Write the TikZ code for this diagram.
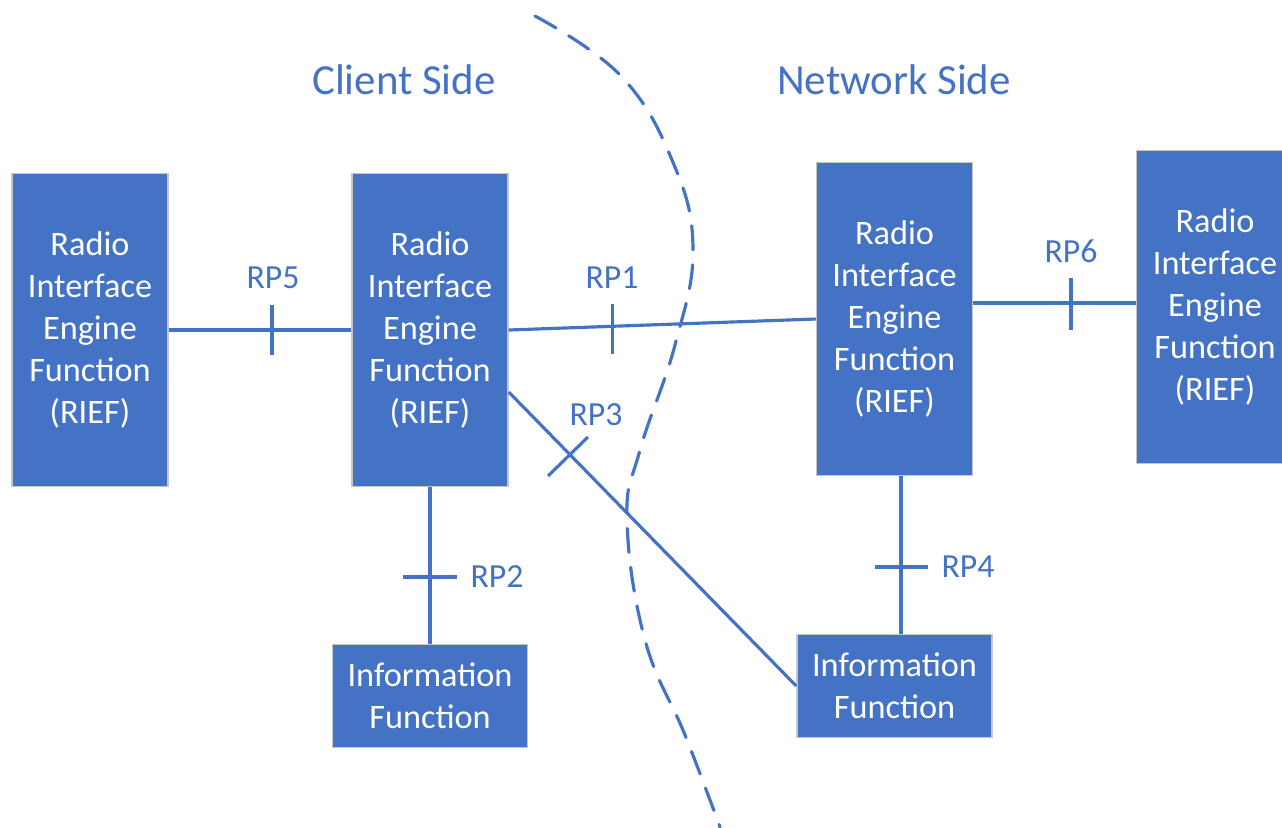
\documentclass[tikz,border=0pt]{standalone}
\usepackage{fontspec}
\setmainfont{Carlito}
\usepackage{xcolor}
\usetikzlibrary{calc}
\definecolor{officeblue}{HTML}{4472C4}

\begin{document}
\begin{tikzpicture}[x=0.01cm,y=-0.01cm,
  rief/.style={rectangle,fill=officeblue,draw=gray!45,line width=0.4pt,text=white,
    minimum width=1.56cm,minimum height=3.13cm,align=center,
    font=\fontsize{9.75}{11.9}\selectfont},
  infobox/.style={rief,minimum width=1.95cm,minimum height=1.03cm},
  link/.style={draw=officeblue,line width=0.9pt},
  rplabel/.style={text=officeblue,font=\fontsize{9.6}{11}\selectfont},
  sidelabel/.style={text=officeblue,font=\fontsize{12.2}{14}\selectfont}]
\useasboundingbox (0,0) rectangle (1282,827);

% side titles
\node [sidelabel] at (404,80) (client) {Client Side};
\node [sidelabel] at (894,80) (network) {Network Side};

% functions
\node [rief] at (90,330) (b1) {Radio\\Interface\\Engine\\Function\\(RIEF)};
\node [rief] at (430,330) (b2) {Radio\\Interface\\Engine\\Function\\(RIEF)};
\node [rief] at (894.5,319) (b3) {Radio\\Interface\\Engine\\Function\\(RIEF)};
\node [rief,minimum width=1.57cm] at (1215,307) (b4) {Radio\\Interface\\Engine\\Function\\(RIEF)};
\node [infobox] at (430,696) (i1) {Information\\Function};
\node [infobox] at (894.5,686) (i2) {Information\\Function};

% reference points
\coordinate (r5) at (272,330);
\coordinate (r1) at ($(b2.east)!0.337!(b3.west)$);
\coordinate (r6) at (1071,303);
\coordinate (r2) at (430,577);
\coordinate (r4) at (901,567);
\coordinate (r3) at (569,455);

\draw [link] (b1) -- (b2);
\draw [link] (b2.east) -- (b3.west);
\draw [link] (b3.east |- r6) -- (b4.west |- r6);
\draw [link] (b2) -- (i1);
\draw [link] (r4 |- b3.south) -- (r4 |- i2.north);
\draw [link] ([yshift=-0.62cm]b2.east) -- (i2.west);

% ticks
\draw [link] ($(r5)+(0,-25)$) -- ($(r5)+(0,25)$);
\draw [link] ($(r1)+(0,-22)$) -- ($(r1)+(0,28)$);
\draw [link] ($(r6)+(0,-25)$) -- ($(r6)+(0,27)$);
\draw [link] ($(r2)+(-27,0)$) -- ($(r2)+(27,0)$);
\draw [link] ($(r4)+(-26,0)$) -- ($(r4)+(27,0)$);
\draw [link] ($(r3)+(-21,21)$) -- ($(r3)+(19,-18)$);

\node [rplabel] at (273,278) {RP5};
\node [rplabel] at (612,278) {RP1};
\node [rplabel] at (1071,251) {RP6};
\node [rplabel] at (497,577) {RP2};
\node [rplabel] at (968,567) {RP4};
\node [rplabel] at (596,415) {RP3};

% border between the two sides
\draw [officeblue,line width=0.9pt,dash pattern=on 0.24cm off 0.15cm,line cap=round]
  plot [smooth,tension=0.7] coordinates {(535,16) (620,75) (672,160) (693,248) (675,345) (640,450) (627,520) (645,640) (685,735) (720,827)};
\end{tikzpicture}
\end{document}
